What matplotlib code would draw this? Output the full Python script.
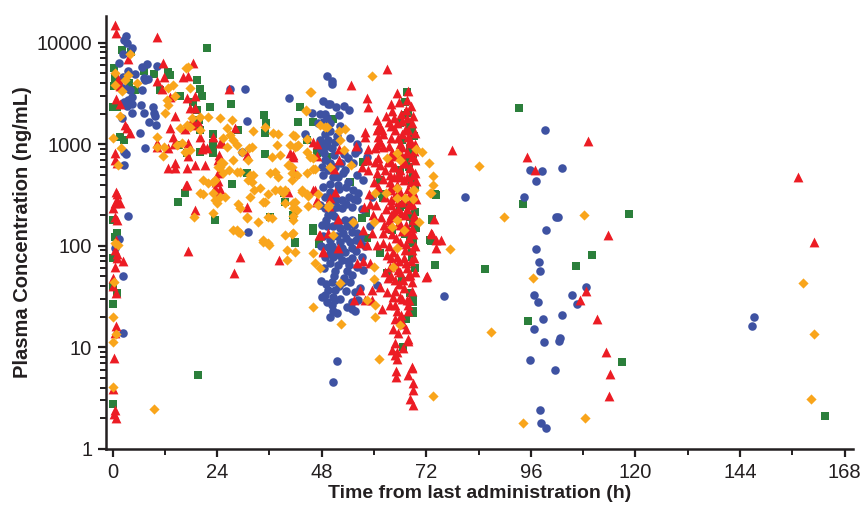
import matplotlib
matplotlib.use("Agg")
import matplotlib.pyplot as plt
from matplotlib.ticker import FixedLocator, NullFormatter, LogLocator

plt.rcParams['font.family'] = ['Liberation Sans', 'DejaVu Sans']

# (time h, concentration ng/mL)
blue_pts = [
    (3.1, 11500), (2.6, 10500), (3.3, 10000), (4.4, 8800), (2.4, 7800), (1.5, 6300), (3.6, 5300),
    (5.1, 4900), (6.7, 5800), (7.8, 6100), (10.1, 5900), (7.1, 4500), (8.2, 4400), (7.5, 4300),
    (2.4, 4600), (1.5, 3800), (2.8, 3600), (4.0, 3400), (6.7, 3400), (4.4, 2900), (2.6, 2600),
    (3.6, 2700), (4.4, 2500), (3.3, 2400), (6.5, 2450), (9.3, 2300), (4.4, 2050), (9.5, 2050),
    (7.2, 2050), (2.2, 1800), (8.4, 1650), (9.7, 1900), (10.0, 1550), (6.3, 1300), (7.5, 910),
    (2.7, 830), (3.1, 800), (2.7, 620), (3.6, 195), (1.5, 117), (0.5, 95), (2.4, 50), (2.4, 14),
    (27.0, 3500), (30.4, 3500), (30.8, 1700), (29.7, 830), (31.1, 137), (40.6, 2850),
    (49.2, 4700), (50.3, 4200), (50.3, 3900), (48.3, 2650), (49.4, 2500), (49.9, 2500),
    (45.7, 2050), (47.6, 2000), (48.7, 2000), (51.2, 2300), (53.1, 2350), (54.2, 2150),
    (51.9, 1950), (49.2, 1800), (48.3, 1650), (49.9, 1600), (47.1, 1600), (44.2, 1250),
    (48.7, 1250), (49.4, 1100), (51.0, 1050), (48.1, 1030), (49.2, 950), (50.3, 920),
    (54.5, 1150), (56.1, 1000), (56.3, 880), (55.6, 820), (54.0, 730), (55.2, 650),
    (48.7, 700), (49.9, 650), (49.4, 560), (51.0, 600), (48.3, 500), (50.6, 480), (52.9, 520),
    (49.9, 410), (51.7, 400), (54.0, 420), (53.3, 560), (56.1, 500), (55.2, 355), (56.3, 330),
    (49.9, 340), (48.7, 300), (51.2, 283), (52.6, 283), (49.9, 260), (48.7, 235), (50.3, 225),
    (52.6, 235), (54.9, 240), (56.1, 283), (49.4, 200), (53.3, 180), (54.9, 180), (51.7, 170),
    (53.8, 155), (50.6, 155), (49.2, 155), (52.9, 135), (54.9, 138), (56.1, 135),
    (56.8, 125), (48.3, 125), (49.9, 114), (52.2, 110), (54.5, 108), (56.8, 110), (49.4, 97),
    (51.0, 91), (53.3, 87), (54.9, 95), (48.7, 78), (50.6, 77), (52.6, 73), (54.9, 76),
    (57.2, 78), (49.9, 68), (51.7, 65), (53.8, 56), (51.0, 56), (57.4, 58), (50.3, 44),
    (52.9, 44), (54.5, 44), (49.4, 37), (51.0, 37), (50.6, 31), (48.1, 31), (49.2, 28),
    (50.3, 26), (51.0, 29), (55.6, 35), (56.8, 38), (56.3, 29), (54.9, 24), (55.6, 23),
    (50.6, 23), (49.9, 20), (60.7, 41), (51.5, 7.4), (50.6, 4.6),
    (47.8, 900), (48.5, 820), (50.8, 780), (52.5, 650), (53.0, 800), (51.5, 1200), (52.3, 1500),
    (50.0, 1350), (47.5, 1100), (48.0, 600), (51.8, 470), (53.5, 380), (52.0, 360), (54.2, 300),
    (50.6, 300), (48.3, 380), (47.6, 250), (51.4, 240), (53.6, 260), (55.3, 290), (48.9, 180),
    (50.9, 195), (52.1, 150), (55.5, 160), (48.0, 160), (51.6, 125), (53.6, 120), (55.8, 115),
    (47.8, 100), (50.3, 100), (52.7, 95), (55.9, 88), (50.0, 85), (52.0, 82), (54.0, 70),
    (56.0, 62), (48.6, 60), (50.8, 50), (53.0, 48), (55.0, 52), (47.9, 45), (51.9, 40),
    (53.5, 36), (48.8, 33), (52.3, 30), (53.8, 25), (51.4, 22), (55.0, 28), (49.0, 42), (54.2, 65),
    (58.4, 740), (57.5, 445), (57.2, 230), (59.0, 155), (58.0, 100), (59.5, 300),
    (99.2, 1380), (95.8, 560), (98.5, 550), (103.1, 580), (97.1, 435), (80.8, 305),
    (94.4, 300), (101.7, 190), (102.2, 193), (99.4, 143), (97.1, 93), (97.9, 69), (98.1, 56),
    (108.6, 39), (76.0, 32), (96.7, 33), (105.4, 33), (97.6, 28), (106.5, 27), (103.1, 21),
    (98.7, 19), (96.7, 15), (99.0, 11.4), (102.7, 12.4), (102.4, 11.6), (95.8, 7.5),
    (101.5, 6.0), (98.1, 2.4), (98.3, 1.8), (99.4, 1.6), (147.1, 20), (146.7, 16.4),
]

red_pts = [
    (0.5, 15000), (0.8, 12400), (3.6, 6900), (1.2, 4400), (1.6, 3700), (0.8, 2800), (1.7, 2500),
    (3.3, 1450), (4.0, 1300), (0.5, 810), (0.5, 700), (1.0, 650), (0.8, 340), (1.0, 320),
    (1.0, 280), (0.5, 265), (1.7, 265), (0.2, 235), (0.5, 190), (1.0, 180), (0.8, 114),
    (0.5, 90), (1.0, 83), (2.4, 71), (0.5, 62), (0.2, 48), (0.2, 40), (0.8, 34), (1.0, 76),
    (0.8, 16.4), (0.5, 14), (0.3, 7.8), (0.2, 3.9), (0.5, 2.4), (0.3, 2.2), (0.8, 2.0),
    (10.2, 11400), (11.6, 6300), (11.8, 4600), (10.2, 4200), (16.2, 4600), (17.3, 4700),
    (18.5, 6300), (17.1, 2850), (11.3, 3500), (13.2, 2900), (13.2, 1450), (13.9, 1170),
    (14.3, 1880), (17.8, 2250), (18.9, 2250), (18.2, 1730), (18.5, 1550), (16.6, 1400),
    (19.6, 1650), (18.9, 3000), (20.1, 1170), (20.8, 950), (21.7, 920), (17.3, 1030),
    (10.2, 1030), (10.2, 940), (14.1, 1000), (12.7, 920), (12.7, 580), (14.3, 660), (14.3, 580),
    (17.1, 580), (18.9, 620), (21.2, 620), (17.3, 760), (17.1, 400), (16.9, 400), (24.2, 700),
    (24.2, 520), (24.4, 790), (24.2, 430), (24.7, 360), (23.5, 370), (24.4, 330), (24.7, 1030),
    (23.1, 1170), (25.1, 1030), (20.5, 890), (26.8, 3500), (28.1, 1440), (30.8, 790),
    (30.8, 240), (18.9, 225), (17.3, 88), (29.2, 78), (27.9, 54), (38.2, 73), (40.7, 820),
    (41.4, 750), (41.9, 520), (40.3, 340), (23.7, 420), (46.0, 1060), (46.9, 1000),
    (46.5, 355), (46.9, 270), (47.4, 128), (48.3, 87), (2.8, 1540),
    (63.0, 5490), (54.7, 3820), (58.4, 2840), (58.6, 2320), (65.3, 3180), (67.8, 3330),
    (67.5, 2720), (67.3, 2170), (67.5, 1810), (60.7, 1730), (61.4, 1470), (60.7, 1380),
    (61.8, 1380), (57.9, 1320), (57.9, 1170), (60.9, 1170), (61.4, 1050), (55.8, 960),
    (58.6, 900), (60.7, 980), (62.0, 940), (64.8, 1380), (65.5, 1150), (67.1, 1380),
    (67.8, 1170), (68.2, 1030), (66.4, 940), (65.3, 820), (67.5, 820), (68.7, 750),
    (58.1, 700), (60.2, 670), (61.4, 620), (63.2, 670), (64.8, 600), (66.6, 650), (68.2, 580),
    (57.2, 600), (58.6, 558), (60.7, 520), (62.5, 558), (63.6, 500), (65.5, 500), (67.5, 480),
    (68.9, 500), (52.0, 900), (52.0, 700), (50.8, 570), (51.0, 340), (49.9, 295), (49.7, 245),
    (51.7, 184), (49.4, 134), (46.0, 350), (46.9, 283), (46.9, 770), (41.4, 780),
    (60.9, 1440), (64.1, 840), (67.5, 840), (58.6, 700), (60.9, 730), (64.3, 600), (67.1, 650),
    (68.2, 600), (60.2, 920), (68.2, 1100), (67.8, 1380),
    (57.5, 143), (59.5, 134), (62.0, 134), (56.8, 107), (58.4, 102), (60.7, 102), (62.0, 107),
    (63.0, 81), (64.3, 87), (67.1, 91), (65.3, 78), (57.5, 70), (59.1, 68), (56.1, 68),
    (63.6, 62), (65.5, 58), (67.5, 61), (63.2, 48), (64.8, 46), (66.6, 46), (68.7, 44),
    (61.4, 39), (63.0, 35), (64.3, 31), (65.9, 31), (67.5, 29), (56.8, 37), (59.5, 37),
    (55.4, 29), (57.9, 29), (59.5, 29), (61.8, 24), (64.8, 26), (67.8, 26), (65.3, 23),
    (67.8, 23), (64.3, 15), (65.5, 14), (65.9, 19), (67.8, 12), (64.8, 11), (65.3, 9.1),
    (66.6, 9.9), (64.1, 9.5), (64.8, 8.5), (65.3, 7.6), (68.7, 6.4), (65.0, 5.8), (67.8, 5.4),
    (65.0, 5.1), (68.9, 4.5), (68.9, 3.8), (68.2, 3.1), (68.9, 2.7), (72.1, 50), (73.1, 134),
    (74.2, 114), (47.6, 128), (48.3, 89), (51.7, 95), (73.7, 184), (73.3, 131), (75.3, 114),
    (74.2, 95), (67.8, 11.6),
    (62.0, 450), (63.6, 420), (65.3, 400), (66.9, 440), (68.5, 420), (61.0, 380), (64.0, 350),
    (66.0, 330), (67.8, 360), (69.0, 340), (62.5, 300), (63.8, 280), (65.5, 270), (67.0, 290),
    (68.7, 260), (60.5, 250), (62.8, 230), (64.5, 220), (66.2, 210), (67.6, 230), (69.2, 200),
    (61.5, 190), (63.5, 180), (65.8, 170), (67.3, 160), (68.6, 150), (59.8, 200), (57.8, 240),
    (58.9, 320), (60.1, 420), (64.9, 190), (66.5, 140), (63.1, 150), (65.0, 120),
    (68.0, 120), (69.3, 100), (62.2, 160), (59.0, 260), (66.8, 75), (68.4, 70), (64.6, 65),
    (63.4, 100), (69.5, 55), (67.9, 50), (65.8, 42), (62.5, 55),
    (62.7, 1900), (63.4, 1650), (62.0, 1250), (64.5, 1800), (66.1, 2000), (68.8, 1600),
    (63.8, 2500), (65.8, 2600), (68.4, 2400), (64.2, 2100), (66.4, 1700), (69.0, 1900),
    (63.9, 1500), (65.2, 1600), (69.3, 1300), (64.0, 1150), (66.5, 1250), (69.5, 1000),
    (63.5, 950), (65.9, 1000), (69.1, 850), (64.4, 760), (66.2, 800), (69.3, 700), (63.7, 700),
    (66.0, 560), (69.4, 520), (64.5, 470), (66.3, 480), (69.6, 430), (64.0, 380), (65.7, 350),
    (68.3, 320), (69.7, 290), (64.5, 300), (66.5, 270), (68.0, 250), (63.9, 250), (65.5, 230),
    (67.2, 200), (68.9, 180), (64.0, 200), (66.0, 160), (67.8, 140), (69.0, 130), (64.2, 130),
    (65.9, 110), (67.4, 105), (68.8, 90), (64.0, 75), (65.7, 70), (67.4, 68), (69.1, 75),
    (66.0, 55), (68.3, 52), (63.8, 50), (66.9, 38), (68.6, 36), (64.9, 36), (66.4, 30),
    (68.0, 29), (63.6, 26), (66.3, 21), (64.8, 19), (66.6, 17), (67.4, 15),
    (77.9, 880), (95.1, 740), (96.9, 560), (109.1, 1070), (157.4, 475), (160.9, 110),
    (71.9, 49), (113.6, 128), (108.6, 36), (107.2, 29), (111.1, 19), (113.3, 8.9),
    (114.1, 5.5), (113.9, 3.3), (68.7, 6.3),
]

orange_pts = [
    (0.4, 44), (0.1, 20), (0.8, 13.5), (0.1, 11.4), (0.1, 4.1), (9.5, 2.5), (1.3, 102),
    (0.6, 107), (0.1, 1150), (1.7, 1900), (1.9, 910), (0.6, 3800), (0.6, 5000), (4.0, 7800),
    (3.6, 4800), (2.9, 4300), (5.6, 4000), (2.1, 3300), (1.3, 620),
    (14.8, 980), (16.0, 1030), (16.6, 840), (17.8, 877), (18.2, 1810), (20.1, 1850),
    (17.8, 1470), (20.1, 1380), (10.2, 1170), (10.2, 940), (11.8, 940), (11.6, 770),
    (12.7, 3570), (12.5, 2720), (12.0, 2030), (12.7, 2430), (14.3, 3000), (13.9, 3820),
    (16.9, 5600), (17.3, 5700), (17.8, 3570), (20.1, 330), (20.8, 320), (23.1, 425), (23.1, 330),
    (24.2, 600), (24.9, 670), (25.4, 650), (26.7, 560), (28.5, 530), (31.1, 445), (32.5, 355),
    (29.2, 235), (30.8, 188), (33.3, 172), (35.0, 270), (35.7, 192), (38.4, 355), (39.1, 330),
    (39.6, 265), (20.8, 445), (21.9, 415), (23.5, 283), (24.7, 300), (25.4, 520), (27.6, 143),
    (28.8, 137), (34.5, 114), (35.7, 107), (39.6, 128), (23.1, 210), (18.6, 192), (29.7, 840),
    (31.3, 920), (32.0, 940), (31.1, 700), (32.2, 500), (35.0, 1470), (36.8, 1290), (37.7, 980),
    (36.6, 750), (38.4, 780), (36.1, 520), (37.9, 470), (39.6, 355), (41.4, 1230), (41.9, 940),
    (41.2, 600), (42.3, 500), (41.4, 265), (42.3, 225), (41.4, 180), (41.4, 134), (40.0, 91),
    (24.7, 1810), (26.3, 1440), (27.6, 1100), (28.5, 980), (21.9, 1850), (27.4, 1730),
    (17.1, 1540), (15.5, 1440), (32.2, 1350), (37.9, 1260), (41.9, 1200), (45.3, 3260),
    (44.4, 2170), (47.6, 1540), (48.7, 1470), (26.9, 1230), (25.3, 1150), (26.3, 940),
    (40.7, 980), (42.3, 960), (40.3, 620), (44.6, 840), (45.3, 750), (46.4, 570), (44.6, 520),
    (46.0, 730), (27.6, 700), (25.1, 650), (24.7, 600), (23.5, 445), (29.2, 530), (31.5, 500),
    (37.3, 530), (32.0, 425), (33.8, 370), (37.3, 355), (35.7, 320), (43.5, 350), (44.6, 320),
    (47.1, 320), (25.8, 300), (24.0, 265), (31.5, 300), (34.5, 270), (28.8, 260), (41.9, 270),
    (44.8, 245), (41.4, 197), (36.6, 188), (30.8, 192), (28.5, 143), (29.2, 134), (34.5, 109),
    (35.9, 102), (41.2, 131), (41.9, 87), (40.0, 73), (46.0, 85), (46.4, 68), (49.4, 240),
    (59.5, 4690), (45.5, 3260), (44.4, 2120), (49.2, 1470), (52.0, 1350), (53.3, 1410),
    (44.6, 1120), (42.5, 980), (52.2, 1100), (53.1, 877), (49.9, 600), (54.7, 620),
    (46.0, 570), (40.5, 620), (41.2, 520), (41.2, 445), (43.5, 340), (44.8, 310), (41.4, 235),
    (47.1, 252), (49.7, 252), (50.6, 128), (55.2, 172), (63.0, 730), (65.3, 820), (69.6, 900),
    (71.0, 840), (72.6, 650), (73.5, 400), (72.8, 330), (68.9, 290), (65.3, 295), (67.1, 295),
    (60.2, 330), (62.7, 330), (65.3, 180), (66.9, 143), (60.0, 172), (47.6, 61), (52.2, 43),
    (60.0, 62), (60.0, 47), (58.4, 29), (60.2, 26), (60.2, 20), (46.0, 25), (52.4, 17),
    (61.1, 7.7), (73.5, 3.3), (65.9, 16.5), (64.1, 153), (65.3, 95), (64.3, 62), (70.3, 172),
    (65.3, 370), (68.9, 355), (65.9, 700), (73.5, 490), (69.2, 355), (73.1, 330),
    (84.1, 610), (89.8, 190), (108.1, 200), (77.4, 93), (96.5, 48), (86.8, 14.2), (108.4, 2.0),
    (94.2, 1.8), (158.4, 43), (160.9, 13.6), (160.2, 3.1),
]

green_pts = [
    (2.2, 8400), (4.2, 8100), (3.8, 4000), (0.4, 5600), (0.6, 4500), (0.4, 3700), (0.1, 2300),
    (1.0, 2300), (1.7, 1170), (2.6, 1100), (5.2, 3400), (7.1, 5300), (9.4, 4900), (10.9, 3400),
    (12.8, 5100), (13.2, 4800), (15.5, 3000), (19.4, 4300), (20.1, 3500), (20.5, 3000),
    (18.5, 2600), (19.4, 2170), (19.9, 1730), (22.4, 2300), (21.7, 8800), (27.2, 2500),
    (15.3, 990), (17.1, 820), (20.1, 840), (23.1, 980), (28.8, 1390), (34.8, 1950), (35.2, 1610),
    (35.0, 1300), (30.8, 520), (35.0, 800), (39.6, 270), (36.1, 192), (16.6, 330), (15.1, 270),
    (23.5, 180), (0.1, 180), (0.6, 123), (1.0, 134), (0.0, 76), (0.1, 40), (1.0, 34), (0.1, 27),
    (0.1, 2.8), (19.6, 5.4), (43.0, 2300), (42.5, 1650), (20.1, 1380), (23.1, 1260),
    (23.1, 1030), (23.1, 820), (27.4, 410), (39.3, 330), (41.4, 201), (41.8, 108), (46.0, 1650),
    (46.0, 140), (46.9, 820), (47.4, 104), (44.6, 1100),
    (50.6, 1770), (49.2, 750), (54.5, 425), (57.5, 670), (57.2, 188), (58.1, 210), (61.8, 320),
    (67.5, 3260), (67.1, 2590), (67.8, 2030), (65.9, 1610), (68.7, 1380), (67.3, 700),
    (68.9, 480), (68.9, 283), (69.4, 215), (68.9, 168), (74.0, 320), (73.3, 180), (46.0, 150),
    (41.9, 107), (74.0, 64), (73.3, 112), (68.9, 107), (68.9, 28), (68.9, 23), (67.3, 19),
    (66.6, 10), (63.0, 54), (67.1, 1940), (68.2, 1470), (66.4, 1100), (68.2, 920), (65.9, 558),
    (68.7, 445), (61.4, 445), (62.0, 295), (65.9, 240), (68.2, 192), (64.1, 143), (68.2, 114),
    (68.7, 85), (61.4, 85), (72.8, 114), (58.4, 120), (68.7, 78), (68.2, 34), (68.9, 29),
    (68.9, 22), (67.1, 19), (69.2, 1200), (69.0, 800), (68.0, 600), (69.5, 380), (66.8, 250),
    (69.6, 150), (67.0, 130), (69.3, 60), (66.5, 45),
    (74.2, 315), (73.4, 185), (73.1, 112), (94.2, 260), (85.4, 59), (95.3, 18.2), (106.3, 63),
    (110.1, 81), (118.5, 205), (116.9, 7.2), (163.6, 2.1), (93.2, 2270),
]

x_ticks = [0, 24, 48, 72, 96, 120, 144, 168]
y_ticks = [1, 10, 100, 1000, 10000]
y_ticklabels = ["1", "10", "100", "1000", "10000"]

fig = plt.figure(figsize=(8.62, 5.05), dpi=100)
ax = fig.add_axes([0.123, 0.111, 0.867, 0.857])

series = [
    (green_pts, 's', '#2b7f3b', 32, 1),
    (blue_pts, 'o', '#3e52a2', 38, 2),
    (red_pts, '^', '#ec1c24', 50, 3),
    (orange_pts, 'D', '#f9a51b', 27, 4),
]
for pts, mk, col, s, z in series:
    xs = [p[0] for p in pts]
    ys = [p[1] for p in pts]
    ax.scatter(xs, ys, marker=mk, s=s, c=col, linewidths=0, zorder=z)

ax.set_yscale('log')
ax.set_xlim(-1.5, 170)
ax.set_ylim(1, 18200)

ax.set_xticks(x_ticks)
ax.set_xticklabels([str(t) for t in x_ticks])
ax.xaxis.set_minor_locator(FixedLocator([12, 36, 60, 84, 108, 132, 156]))
ax.set_yticks(y_ticks)
ax.set_yticklabels(y_ticklabels)
ax.yaxis.set_minor_locator(LogLocator(base=10, subs=range(2, 10)))
ax.yaxis.set_minor_formatter(NullFormatter())

for side in ['top', 'right']:
    ax.spines[side].set_visible(False)
for side in ['left', 'bottom']:
    ax.spines[side].set_linewidth(1.8)
    ax.spines[side].set_color('#231f20')

ax.tick_params(axis='both', which='major', direction='out', length=6, width=1.6,
               color='#231f20', labelsize=14.5, labelcolor='#231f20', pad=4)
ax.tick_params(axis='both', which='minor', direction='out', length=4, width=1.4, color='#231f20')

ax.set_xlabel('Time from last administration (h)', fontsize=14, fontweight='bold',
              color='#231f20', labelpad=2)
ax.set_ylabel('Plasma Concentration (ng/mL)', fontsize=14.5, fontweight='bold',
              color='#231f20', labelpad=3)

fig.savefig('out.png', dpi=100)
